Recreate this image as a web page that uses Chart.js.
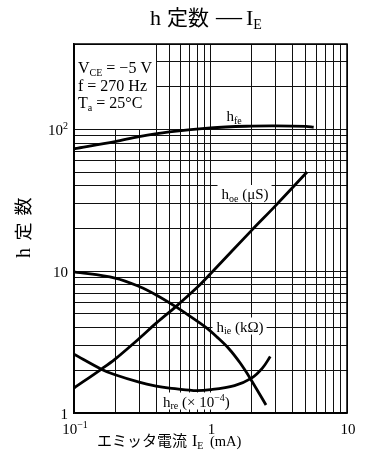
<!DOCTYPE html>
<html>
<head>
<meta charset="utf-8">
<script src="https://cdn.jsdelivr.net/npm/chart.js@4.4.0/dist/chart.umd.min.js"></script>
<style>
  html, body { margin: 0; padding: 0; background: #fff; }
  canvas { display: block; }
</style>
</head>
<body>
<canvas id="chart" width="365" height="473"></canvas>
<script>
// readings: emitter current I_E (mA) -> h parameter
const hfeIE = [0.1, 0.2, 0.3, 0.5, 1, 2, 3, 5, 5.7];
const hfe   = [73, 82, 89, 96, 102.5, 105.5, 106, 105, 103.5];

const hoeIE = [0.1, 0.16, 0.2, 0.3, 0.4, 0.56, 0.8, 1, 2, 3, 5.1];
const hoe   = [1.5, 2.05, 2.4, 3.35, 4.3, 5.65, 7.7, 9.6, 19.4, 29, 50];

const hieIE = [0.1, 0.2, 0.3, 0.4, 0.56, 0.71, 0.94, 1.11, 1.36, 1.65, 1.95, 2.55];
const hie   = [9.9, 8.95, 7.8, 6.8, 5.6, 4.8, 3.97, 3.45, 2.85, 2.25, 1.76, 1.14];

const hreIE = [0.1, 0.16, 0.2, 0.3, 0.4, 0.5, 0.75, 1, 1.5, 2, 2.4, 2.74];
const hre   = [2.6, 2.03, 1.86, 1.65, 1.55, 1.5, 1.44, 1.46, 1.56, 1.76, 2.07, 2.5];

// grid lines and tick labels
const ieGrid = [0.1, 0.2, 0.3, 0.4, 0.5, 0.6, 0.7, 0.8, 0.9, 1, 2, 3, 4, 5, 6, 7, 8, 9, 10];
const hGrid = [1, 2, 3, 4, 5, 6, 7, 8, 9, 10, 20, 30, 40, 50, 60, 70, 80, 90, 100, 200, 300, 400];
const ieTicks = [0.1, 1, 10];
const ieTickText = [['10', '−1'], ['1', ''], ['10', '']];
const hTicks = [1, 10, 100];
const hTickText = [['1', ''], ['10', ''], ['10', '2']];

const SERIF = "'Liberation Serif', 'Times New Roman', serif";
const CJK = "'Noto Sans CJK JP', sans-serif";

function pts(xs, ys) {
  return xs.map((x, i) => ({ x: x, y: ys[i] }));
}

// parts: [text, size, dy, family]
function runsWidth(ctx, parts) {
  let w = 0;
  parts.forEach(p => {
    ctx.font = p[1] + 'px ' + (p[3] || SERIF);
    w += ctx.measureText(p[0]).width;
  });
  return w;
}
function drawRuns(ctx, x, y, parts) {
  let cx = x;
  parts.forEach(p => {
    ctx.font = p[1] + 'px ' + (p[3] || SERIF);
    ctx.fillText(p[0], cx, y + (p[2] || 0));
    cx += ctx.measureText(p[0]).width;
  });
  return cx;
}

const curveLabels = [
  { x: 226.5, y: 121, box: false, parts: [['h', 15], ['fe', 10, 2.5]] },
  { x: 221.5, y: 199, box: true, parts: [['h', 15], ['oe', 10, 2.5], [' (μS)', 15]] },
  { x: 216.5, y: 331.5, box: true, parts: [['h', 15], ['ie', 10, 2.5], [' (kΩ)', 15]] },
  { x: 163, y: 406.5, box: true, parts: [['h', 15], ['re', 10, 2.5], [' (× 10', 15], ['−4', 10, -5.5], [')', 15]] }
];

const decor = {
  id: 'decor',
  beforeDatasetsDraw(chart) {
    const ctx = chart.ctx, a = chart.chartArea;
    const xs = chart.scales.x, ys = chart.scales.y;
    ctx.save();
    ctx.fillStyle = '#fff';
    // condition box in the upper left corner
    const bx = Math.floor(xs.getPixelForValue(0.4));
    const by = Math.floor(ys.getPixelForValue(100));
    ctx.fillRect(a.left + 1, a.top + 1, bx - a.left - 1, by - a.top - 1);
    curveLabels.forEach(l => {
      if (!l.box) return;
      const w = runsWidth(ctx, l.parts);
      ctx.fillRect(l.x - 4, l.y - 14, w + 7, 17);
    });
    ctx.restore();
  },
  afterDatasetsDraw(chart) {
    const ctx = chart.ctx, a = chart.chartArea;
    const xs = chart.scales.x, ys = chart.scales.y;
    ctx.save();
    ctx.fillStyle = '#000';
    ctx.textAlign = 'left';
    ctx.textBaseline = 'alphabetic';

    curveLabels.forEach(l => drawRuns(ctx, l.x, l.y, l.parts));

    // measurement conditions
    drawRuns(ctx, 78, 73, [['V', 16], ['CE', 10, 3], [' = −5 V', 16]]);
    drawRuns(ctx, 78, 90.5, [['f = 270 Hz', 16]]);
    drawRuns(ctx, 78, 108, [['T', 16], ['a', 10, 3], [' = 25°C', 16]]);

    // frame
    ctx.strokeStyle = '#000';
    ctx.lineWidth = 1.5;
    ctx.strokeRect(a.left, a.top, a.right - a.left, a.bottom - a.top);

    // y tick labels
    hTicks.forEach((v, i) => {
      const t = hTickText[i];
      const parts = [[t[0], 15], [t[1], 10, -6]];
      const w = runsWidth(ctx, parts);
      drawRuns(ctx, 68 - w, ys.getPixelForValue(v) + 6, parts);
    });
    // x tick labels
    ieTicks.forEach((v, i) => {
      const t = ieTickText[i];
      const parts = [[t[0], 15], [t[1], 10, -6]];
      const w = runsWidth(ctx, parts);
      drawRuns(ctx, xs.getPixelForValue(v) - w / 2 + 1, 434, parts);
    });

    // title
    drawRuns(ctx, 150, 25, [['h', 22]]);
    drawRuns(ctx, 167, 24.5, [['定数', 21, 0, CJK]]);
    drawRuns(ctx, 216, 25, [['—', 26]]);
    drawRuns(ctx, 246, 25, [['I', 22], ['E', 14, 3.5]]);

    // x axis title
    drawRuns(ctx, 97, 446, [['エミッタ電流', 15, 0, CJK]]);
    drawRuns(ctx, 192, 446, [['I', 16], ['E', 10, 3]]);
    drawRuns(ctx, 210, 446, [['(mA)', 14.5]]);

    // y axis title, rotated
    ctx.translate(30, 258);
    ctx.rotate(-Math.PI / 2);
    drawRuns(ctx, 0, 0, [['h', 20]]);
    drawRuns(ctx, 17.5, 0, [['定', 18, 0, CJK]]);
    drawRuns(ctx, 42.5, 0, [['数', 18, 0, CJK]]);
    ctx.restore();
  }
};

const lineStyle = {
  borderColor: '#000',
  borderWidth: 2.8,
  pointRadius: 0,
  fill: false,
  tension: 0.35,
  borderJoinStyle: 'round'
};

new Chart(document.getElementById('chart').getContext('2d'), {
  type: 'line',
  data: {
    datasets: [
      Object.assign({ label: 'hfe', data: pts(hfeIE, hfe) }, lineStyle),
      Object.assign({ label: 'hoe (μS)', data: pts(hoeIE, hoe) }, lineStyle),
      Object.assign({ label: 'hie (kΩ)', data: pts(hieIE, hie) }, lineStyle),
      Object.assign({ label: 'hre (×10^-4)', data: pts(hreIE, hre) }, lineStyle)
    ]
  },
  options: {
    responsive: false,
    animation: false,
    devicePixelRatio: 1,
    layout: { padding: { left: 74, right: 18, top: 44, bottom: 60 } },
    plugins: { legend: { display: false }, tooltip: { enabled: false } },
    scales: {
      x: {
        type: 'logarithmic',
        min: 0.1,
        max: 10,
        afterBuildTicks: axis => { axis.ticks = ieGrid.map(v => ({ value: v })); },
        ticks: { display: false },
        grid: { color: '#111', lineWidth: 1, drawTicks: false },
        border: { color: '#000', width: 1.5 }
      },
      y: {
        type: 'logarithmic',
        min: 1,
        max: 400,
        afterBuildTicks: axis => { axis.ticks = hGrid.map(v => ({ value: v })); },
        ticks: { display: false },
        grid: { color: '#111', lineWidth: 1, drawTicks: false },
        border: { color: '#000', width: 1.5 }
      }
    }
  },
  plugins: [decor]
});
</script>
</body>
</html>
